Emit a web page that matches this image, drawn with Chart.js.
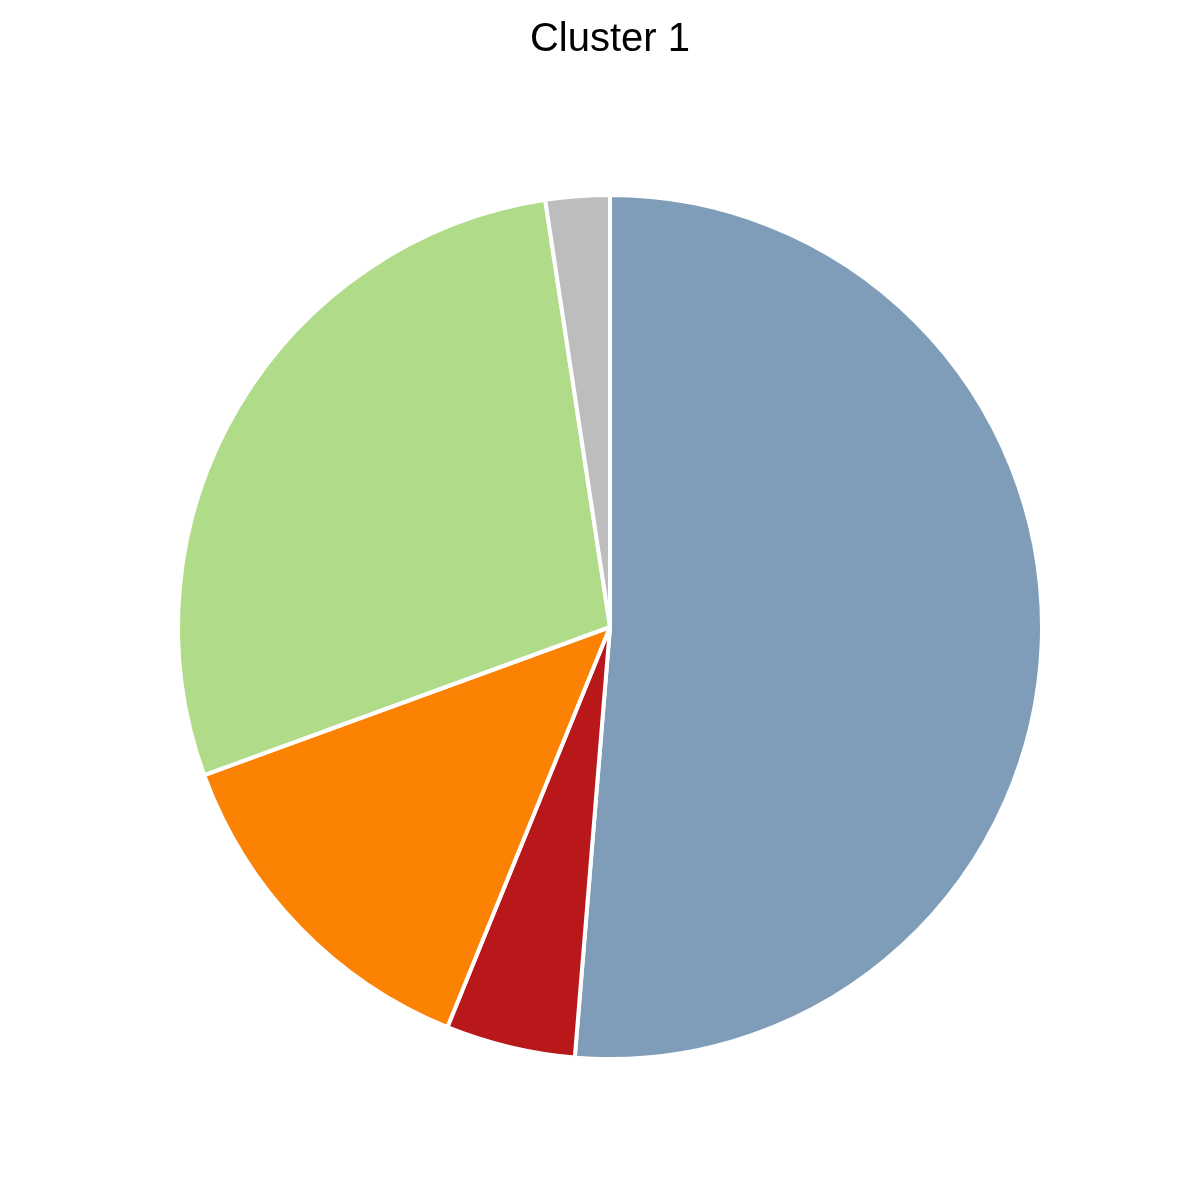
<!DOCTYPE html>
<html>
<head>
<meta charset="utf-8">
<script src="https://cdn.jsdelivr.net/npm/chart.js@4.4.0/dist/chart.umd.min.js"></script>
<style>
  html, body { margin: 0; padding: 0; background: #fff; }
  #wrap { width: 1200px; height: 1200px; }
</style>
</head>
<body>
<div id="wrap"><canvas id="pie" width="1200" height="1200"></canvas></div>
<script>
// slices clockwise from 12 o'clock (percent)
const labels = ["A", "B", "C", "D", "E"];
const shares = [51.35, 4.85, 13.3, 28.2, 2.4];
const colors = ["#7f9db9", "#b8181a", "#fb8203", "#b0dc89", "#bdbdbd"];
const chartTitle = "Cluster 1";

new Chart(document.getElementById("pie"), {
    type: "pie",
    data: {
        labels: labels,
        datasets: [{
            data: shares,
            backgroundColor: colors,
            borderColor: "#ffffff",
            borderWidth: 4
        }]
    },
    options: {
        responsive: false,
        animation: false,
        layout: { padding: { left: 20, right: 0, top: 0, bottom: 139 } },
        plugins: {
            legend: { display: false },
            tooltip: { enabled: false },
            title: {
                display: true,
                text: chartTitle,
                color: "#000",
                font: { family: "Liberation Sans", size: 40, weight: "normal" },
                padding: { top: 16, bottom: 129 }
            }
        }
    }
});
</script>
</body>
</html>
